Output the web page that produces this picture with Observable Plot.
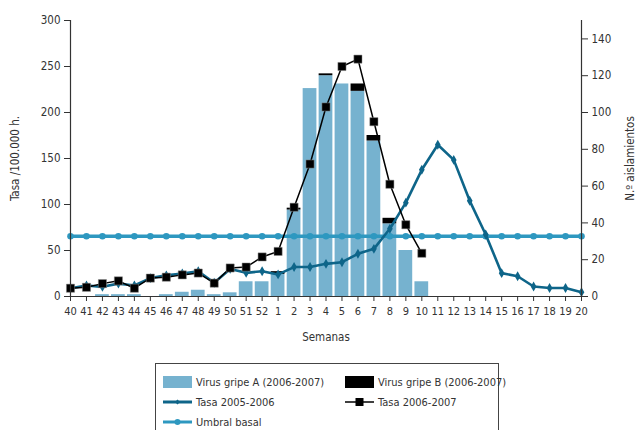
<!DOCTYPE html>
<html>
<head>
<meta charset="utf-8">
<script src="https://cdn.jsdelivr.net/npm/d3@7"></script>
<script src="https://cdn.jsdelivr.net/npm/@observablehq/plot@0.6"></script>
<style>
  html, body { margin: 0; padding: 0; background: #fff; }
  body { width: 638px; height: 430px; overflow: hidden; position: relative;
         font-family: "Liberation Sans Narrow", "DejaVu Sans Condensed", "Arial Narrow", sans-serif; color: #333; }
  #chart { position: absolute; left: 0; top: 0; }
  #legend { position: absolute; left: 155px; top: 363px; width: 344px; height: 80px;
            border: 1px solid #444; box-sizing: border-box; font-size: 11px; color: #333; }
  .item { position: absolute; display: flex; align-items: center; height: 16px; }
  .item span { margin-left: 4px; white-space: nowrap; }
</style>
</head>
<body>
<div id="chart"></div>
<div id="legend"></div>
<script>
// Week labels (x axis)
const weeks = ["40","41","42","43","44","45","46","47","48","49","50","51","52",
               "1","2","3","4","5","6","7","8","9","10","11","12","13","14","15","16","17","18","19","20"];
// Number of isolates (right axis)
const virusA = [0,0,1,1,1,0,1,2.3,3.4,1,2,8,8,12,47,113,120,115.5,111.5,84.5,39.5,25,8,0,0,0,0,0,0,0,0,0,0];
const virusB = [0,0,0,0,0,0,0,0,0,0,0,0,0,1.5,1,0,1,0,4,3,3,0,0,0,0,0,0,0,0,0,0,0,0];
// Rates per 100,000 (left axis)
const tasa0506 = [9,12,10.5,14,12,20,23,25,27.5,15,30,25.7,27.5,24,32,32,35.5,37.3,46.4,51.8,73.6,102,137.7,165,148.5,104,67.4,25.4,22,10.9,9.2,9.2,4.7];
const tasa0607 = [9,10,14,17,9,20,21,23.5,25.5,14.5,31,32,43,49,97,144,206,250,258,190,122,78,47];
const umbral = 65.5;
const leftTicks = [0,50,100,150,200,250,300];
const rightTicks = [0,20,40,60,80,100,120,140];

const colA = "#76b2cf", colB = "#000000", col0506 = "#0e6589", col0607 = "#000000", colUmbral = "#2e98c0";
const ratio = 2; // left units per right unit (300 / 150)

const bars = [];
weeks.forEach((w, i) => {
  bars.push({i, v: virusA[i] * ratio, s: "A"});
  bars.push({i, v: virusB[i] * ratio, s: "B"});
});
const l0506 = tasa0506.map((v, i) => ({i, v}));
const l0607 = tasa0607.map((v, i) => ({i, v}));
const lUmb = weeks.map((w, i) => ({i, v: umbral}));

const plot = Plot.plot({
  width: 638, height: 363,
  marginLeft: 70, marginRight: 57, marginTop: 20, marginBottom: 67,
  style: {fontFamily: '"Liberation Sans Narrow", "DejaVu Sans Condensed", sans-serif', fontSize: "11px", color: "#333", background: "white"},
  x: {type: "linear", domain: [0, weeks.length - 1], axis: null},
  y: {domain: [0, 300], axis: null},
  color: {domain: ["A", "B"], range: [colA, colB]},
  marks: [
    Plot.rectY(bars, {x1: d => d.i - 0.43, x2: d => d.i + 0.43, y: "v", fill: "s", order: ["A","B"]}),
    Plot.line(lUmb, {x: "i", y: "v", stroke: colUmbral, strokeWidth: 3.5}),
    Plot.dot(lUmb, {x: "i", y: "v", fill: colUmbral, r: 3.3, symbol: "circle"}),
    Plot.line(l0506, {x: "i", y: "v", stroke: col0506, strokeWidth: 2.6}),
    Plot.dot(l0506, {x: "i", y: "v", fill: col0506, r: 3, symbol: "diamond"}),
    Plot.line(l0607, {x: "i", y: "v", stroke: col0607, strokeWidth: 1.5}),
    Plot.dot(l0607, {x: "i", y: "v", fill: col0607, stroke: "#888", strokeWidth: 0.5, r: 4.6, symbol: "square"}),
    Plot.ruleX([0, weeks.length - 1], {stroke: "#333", strokeWidth: 1.2}),
    Plot.ruleY([0], {stroke: "#333", strokeWidth: 1.2}),
    Plot.axisY(leftTicks, {anchor: "left", tickSize: 6, tickPadding: 4, label: null, stroke: "#333", fontSize: 11.5}),
    Plot.axisY(rightTicks.map(d => d * ratio), {anchor: "right", tickSize: 6, tickPadding: 4, tickFormat: d => d / ratio, label: null, stroke: "#333", fontSize: 11.5}),
    Plot.axisX(d3.range(weeks.length), {tickSize: 5, tickPadding: 6, tickFormat: i => weeks[i], label: null, stroke: "#333", fontSize: 11}),
    Plot.text(["Tasa /100.000 h."], {frameAnchor: "left", dx: -55, rotate: -90, textAnchor: "middle", fontSize: 11.5, fill: "#333"}),
    Plot.text(["N.º aislamientos"], {frameAnchor: "right", dx: 49, rotate: -90, textAnchor: "middle", fontSize: 11.5, fill: "#333"}),
    Plot.text(["Semanas"], {frameAnchor: "bottom", dy: 44, fontSize: 11.5, fill: "#333"})
  ]
});
document.getElementById("chart").appendChild(plot);

// Legend
const legendItems = [
  {label: "Virus gripe A (2006-2007)", type: "rect", color: colA, x: 7, y: 10},
  {label: "Virus gripe B (2006-2007)", type: "rect", color: colB, x: 189, y: 10},
  {label: "Tasa 2005-2006", type: "line", color: col0506, marker: "diamond", x: 7, y: 30},
  {label: "Tasa 2006-2007", type: "line", color: col0607, marker: "square", x: 189, y: 30},
  {label: "Umbral basal", type: "line", color: colUmbral, marker: "circle", x: 7, y: 50}
];
const legend = document.getElementById("legend");
for (const it of legendItems) {
  const div = document.createElement("div");
  div.className = "item";
  div.style.left = it.x + "px";
  div.style.top = it.y + "px";
  let sw;
  if (it.type === "rect") {
    sw = `<svg width="29" height="14"><rect x="0" y="1" width="29" height="12" fill="${it.color}"/></svg>`;
  } else {
    let m = "";
    if (it.marker === "diamond") m = `<path d="M14.5,4.5 L17,7 L14.5,9.5 L12,7 Z" fill="${it.color}"/>`;
    if (it.marker === "square") m = `<rect x="10.5" y="3" width="8" height="8" fill="${it.color}"/>`;
    if (it.marker === "circle") m = `<circle cx="14.5" cy="7" r="3" fill="${it.color}"/>`;
    const sw2 = it.marker === "square" ? 1.5 : 3;
    sw = `<svg width="29" height="14"><line x1="0" x2="29" y1="7" y2="7" stroke="${it.color}" stroke-width="${sw2}"/>${m}</svg>`;
  }
  div.innerHTML = sw + `<span>${it.label}</span>`;
  legend.appendChild(div);
}
</script>
</body>
</html>
